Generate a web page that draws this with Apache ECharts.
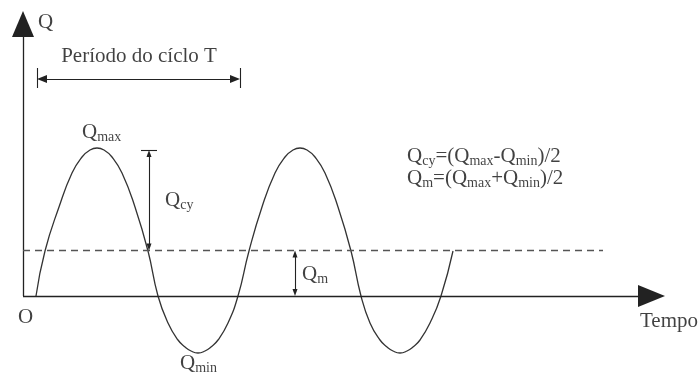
<!DOCTYPE html>
<html>
<head>
<meta charset="utf-8">
<script src="https://cdn.jsdelivr.net/npm/echarts@6/dist/echarts.min.js"></script>
<style>
  html, body { margin: 0; padding: 0; background: #ffffff; }
  #chart { width: 699px; height: 376px; }
</style>
</head>
<body>
<div id="chart"></div>
<script>
// Cyclic flow Q(t): two full cycles oscillating around the mean level Qm
const timeValues = [13, 22, 36, 49, 59, 67, 74, 81, 89, 99, 112, 125,
                    135, 145, 155, 162, 168, 175, 182, 188, 195, 205, 215,
                    226, 239, 252, 262, 270, 277, 284, 292, 302, 315, 328,
                    338, 347, 357, 364, 370, 377, 384, 390, 397, 407, 418, 430];
const flowValues = [0, 45, 89, 123, 139, 146, 148, 146, 139, 123, 89, 45,
                    0, -27, -44, -51, -55, -57, -55, -51, -44, -27, 0,
                    45, 89, 123, 139, 146, 148, 146, 139, 123, 89, 45,
                    0, -27, -44, -51, -55, -57, -55, -51, -44, -27, 0, 45];

// Characteristic levels of the cycle
const qMax = 148;
const qMin = -57;
const qMean = (qMax + qMin) / 2;

// One period T, measured between two rising zero crossings
const periodStart = 14;
const periodEnd = 217;

// Extent of the drawing area (time, flow)
const timeRange = [0, 642];
const flowRange = [-80, 285];

const FONT = 'Liberation Serif';
const INK = '#222';

const curve = timeValues.map((t, i) => [t, flowValues[i]]);

const rich = {
  q: { fontFamily: FONT, fontSize: 21, color: '#111' },
  s: { fontFamily: FONT, fontSize: 14, color: '#111', padding: [10, 0, 0, 0] }
};

function seg(a, b, style, fromSym, toSym) {
  return [
    Object.assign({ coord: a }, fromSym || { symbol: 'none' }),
    Object.assign({ coord: b, lineStyle: style }, toSym || { symbol: 'none' })
  ];
}

const solid = { color: INK, width: 1.3, type: 'solid' };
const thin = { color: INK, width: 1.1, type: 'solid' };
const bigHead = { symbol: 'triangle', symbolSize: [22, 27] };
const midHead = { symbol: 'triangle', symbolSize: [8, 10] };
const smallHead = { symbol: 'triangle', symbolSize: [5, 7] };

const guides = [
  // time axis and flow axis with arrowheads
  seg([timeRange[0], 0], [timeRange[1] - 13.5, 0], solid, null, bigHead),
  seg([0, 0], [0, flowRange[1] - 13], solid, null, { symbol: 'triangle', symbolSize: [22, 26] }),
  // mean level
  seg([0, qMean], [580, qMean], { color: '#555', width: 1.3, type: [7, 5] }),
  // period T dimension
  seg([periodStart, 208], [periodStart, 228], thin),
  seg([periodEnd, 208], [periodEnd, 228], thin),
  seg([periodStart + 5, 217], [periodEnd - 5, 217], thin, midHead, midHead),
  // Qcy dimension
  seg([118, qMax - 2], [134, qMax - 2], thin),
  seg([126, qMax - 5.5], [126, qMean + 3.5], thin, smallHead, smallHead),
  // Qm dimension
  seg([272, qMean - 3.5], [272, 3.5], thin, smallHead, smallHead)
];

function text(pos, formatter, position) {
  return {
    value: pos,
    label: { show: true, formatter: formatter, position: position || 'right', distance: 0, rich: rich }
  };
}

const labels = [
  text([15, 274], '{q|Q}'),
  text([116, 240], '{q|Período do cíclo T}', 'inside'),
  text([59, 164], '{q|Q}{s|max}'),
  text([142, 96], '{q|Q}{s|cy}'),
  text([279, 22], '{q|Q}{s|m}'),
  text([157, -67], '{q|Q}{s|min}'),
  text([2.5, -21], '{q|O}', 'inside'),
  text([617, -25], '{q|Tempo}'),
  text([384, 140], '{q|Q}{s|cy}{q|=(Q}{s|max}{q|-Q}{s|min}{q|)/2}'),
  text([384, 118], '{q|Q}{s|m}{q|=(Q}{s|max}{q|+Q}{s|min}{q|)/2}')
];

const chart = echarts.init(document.getElementById('chart'), null, { renderer: 'canvas' });
chart.setOption({
  animation: false,
  backgroundColor: '#ffffff',
  grid: { left: 23, right: 34, top: 11, bottom: 0, containLabel: false },
  xAxis: { type: 'value', min: timeRange[0], max: timeRange[1], show: false },
  yAxis: { type: 'value', min: flowRange[0], max: flowRange[1], show: false },
  series: [
    {
      type: 'line',
      data: curve,
      smooth: 0.5,
      showSymbol: false,
      clip: false,
      lineStyle: { color: '#333', width: 1.3 },
      silent: true,
      z: 3
    },
    {
      type: 'line',
      data: [],
      silent: true,
      z: 2,
      markLine: {
        silent: true,
        animation: false,
        label: { show: false },
        emphasis: { disabled: true },
        data: guides
      }
    },
    {
      type: 'scatter',
      symbolSize: 0,
      clip: false,
      silent: true,
      z: 4,
      data: labels
    }
  ]
});
</script>
</body>
</html>
